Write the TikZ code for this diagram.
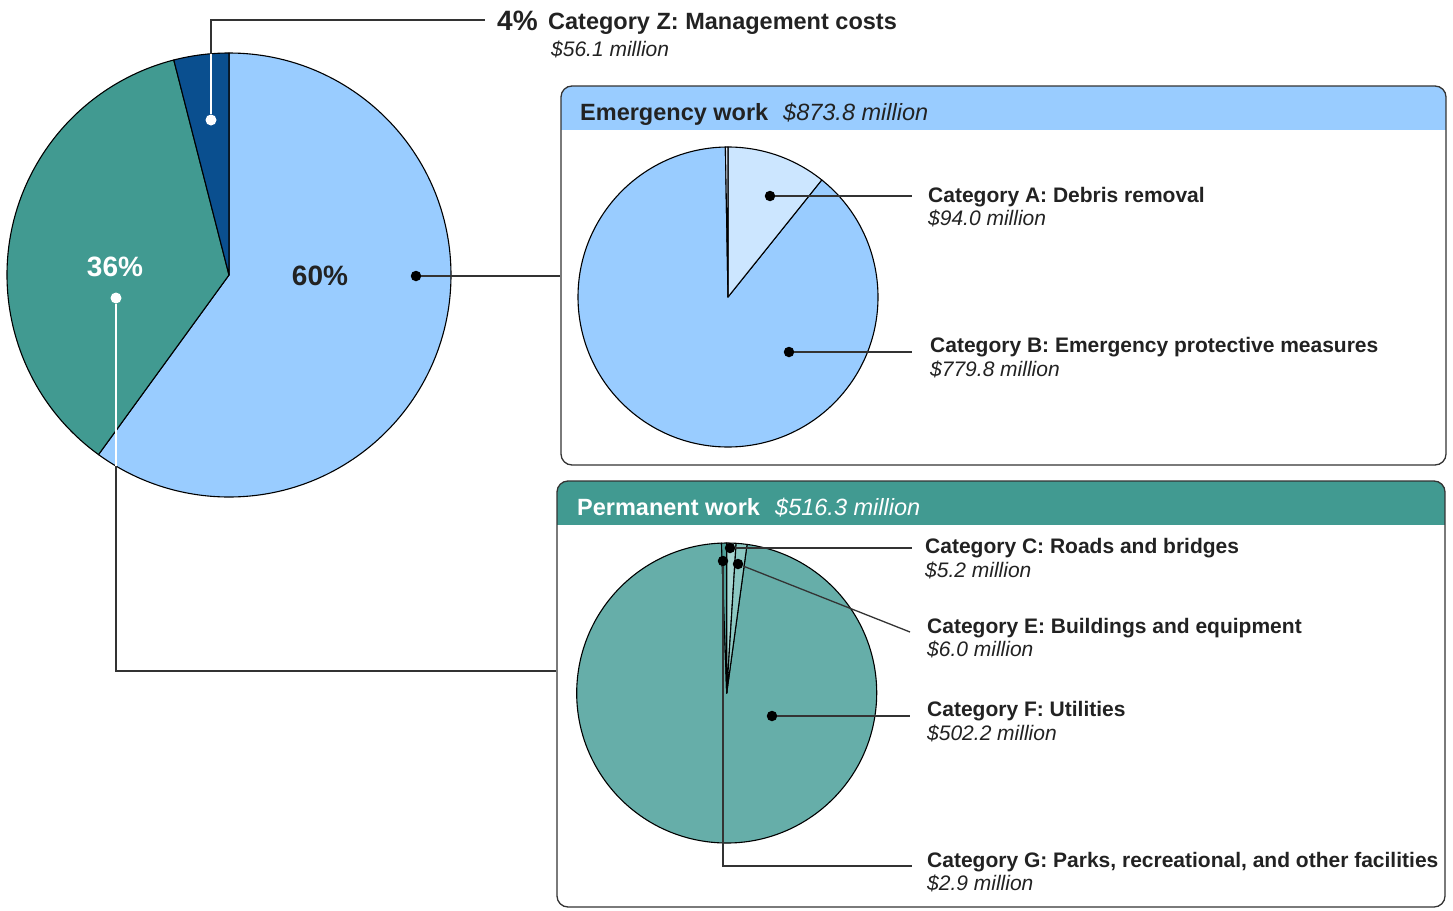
\documentclass[tikz,border=0pt]{standalone}
\usepackage{fontspec}
\setmainfont{Liberation Sans}
\definecolor{lblue}{HTML}{99CCFF}
\definecolor{vlblue}{HTML}{CCE6FF}
\definecolor{sliverc}{HTML}{E8F3FF}
\definecolor{mteal}{HTML}{419A91}
\definecolor{navy}{HTML}{0A4F8F}
\definecolor{pteal}{HTML}{66AEA9}
\definecolor{gteal}{HTML}{4E9F98}
\definecolor{cteal}{HTML}{A6D6D1}
\definecolor{eteal}{HTML}{8CC8C2}
\definecolor{textc}{HTML}{222222}
\definecolor{linec}{HTML}{333333}
\newcommand\pieslice[5]{\filldraw[fill=#5, draw=black, line width=1.1pt, line join=round] (#1) -- ++(#3:#2) arc[start angle=#3, end angle=#4, radius=#2] -- cycle;}
\begin{document}
\begin{tikzpicture}[x=1pt,y=1pt,
  lab/.style={anchor=base west, inner sep=0pt, text=textc, font=\fontsize{21}{25}\selectfont\bfseries},
  amt/.style={anchor=base west, inner sep=0pt, text=textc, font=\fontsize{21}{25}\selectfont\itshape},
  head/.style={anchor=base west, inner sep=0pt, text=textc, font=\fontsize{23.5}{28}\selectfont\bfseries},
  headamt/.style={anchor=base west, inner sep=0pt, text=textc, font=\fontsize{23.5}{28}\selectfont\itshape},
  pct/.style={anchor=center, inner sep=0pt, font=\fontsize{28}{32}\selectfont\bfseries},
  leader/.style={draw=linec, line width=1.3pt},
  wleader/.style={draw=white, line width=1.6pt},
  bdot/.style={circle, fill=black, inner sep=0pt, minimum size=10.5pt},
  wdot/.style={circle, fill=white, inner sep=0pt, minimum size=11pt},
  box/.style={draw=linec, line width=1.3pt, rounded corners=11pt, inner sep=0pt}
]
\useasboundingbox (0,0) rectangle (1453,-910);

% ---------- main pie ----------
\coordinate (mc) at (229,-275);
\pieslice{mc}{222pt}{90}{-126}{lblue}
\pieslice{mc}{222pt}{-126}{-255.6}{mteal}
\pieslice{mc}{222pt}{-255.6}{-270}{navy}

\node[pct, text=textc] (p60) at (320,-276) {60\%};
\node[pct, text=white] (p36) at (115,-267) {36\%};

% ---------- boxes ----------
\path (561,-86) coordinate (eTL) (1446,-465) coordinate (eBR);
\path (557,-481) coordinate (pTL) (1445,-907) coordinate (pBR);
\begin{scope}
  \clip[rounded corners=11pt] (eTL) rectangle (eBR);
  \fill[lblue] (eTL) rectangle (1446,-130);
\end{scope}
\begin{scope}
  \clip[rounded corners=11pt] (pTL) rectangle (pBR);
  \fill[mteal] (pTL) rectangle (1445,-525);
\end{scope}
\node[box, minimum width=885pt, minimum height=379pt] (ebox) at (1003.5,-275.5) {};
\node[box, minimum width=888pt, minimum height=426pt] (pbox) at (1001,-694) {};

\node[head] (eh) at (580,-120) {Emergency work};
\node[headamt] (eha) at (783,-120) {\$873.8 million};
\node[head, text=white] (ph) at (577,-515) {Permanent work};
\node[headamt, text=white] (pha) at (775,-515) {\$516.3 million};

% ---------- emergency pie ----------
\coordinate (ec) at (728,-297);
\pieslice{ec}{150pt}{51.3}{-269}{lblue}
\pieslice{ec}{150pt}{90}{51.3}{vlblue}
\pieslice{ec}{150pt}{91}{90}{sliverc}

% ---------- permanent pie ----------
\coordinate (pc) at (726.7,-693);
\pieslice{pc}{150pt}{82.2}{-268}{pteal}
\pieslice{pc}{150pt}{92}{90}{gteal}
\pieslice{pc}{150pt}{90}{86.4}{cteal}
\pieslice{pc}{150pt}{86.4}{82.2}{eteal}

% ---------- main pie connectors ----------
\node[wdot] (zdot) at (211,-120) {};
\coordinate (zedge) at (211,-53.7);
\coordinate (zend) at (485,-20);
\draw[wleader] (zdot) -- (zedge);
\draw[leader] (zedge) |- (zend);
\node[pct, anchor=base west, text=textc] (z4) at (497,-30) {4\%};
\node[head] (zlab) at (548,-29) {Category Z: Management costs};
\node[amt] (zamt) at (551,-56) {\$56.1 million};

\node[bdot] (d60) at (416,-276) {};
\draw[leader] (d60) -- (ebox.west |- d60);

\node[wdot] (d36) at (116,-298) {};
\coordinate (e36) at (116,-466);
\coordinate (k36) at (116,-671);
\draw[wleader] (d36) -- (e36);
\draw[leader] (e36) -- (k36) -- (pbox.west |- k36);

% ---------- emergency labels ----------
\node[bdot] (da) at (770,-196) {};
\coordinate (ea) at (912,-196);
\draw[leader] (da) -- (ea);
\node[lab] (la) at (928,-202) {Category A: Debris removal};
\node[amt] (aa) at (928,-225) {\$94.0 million};

\node[bdot] (db) at (789,-352) {};
\coordinate (eb) at (912,-352);
\draw[leader] (db) -- (eb);
\node[lab] (lb) at (930,-352) {Category B: Emergency protective measures};
\node[amt] (ab) at (930,-376) {\$779.8 million};

% ---------- permanent labels ----------
\node[bdot] (dc) at (730,-548) {};
\coordinate (ec2) at (912,-548);
\draw[leader] (dc) -- (ec2);
\node[lab] (lc) at (925,-553) {Category C: Roads and bridges};
\node[amt] (ac) at (925,-577) {\$5.2 million};

\node[bdot] (de) at (738,-564) {};
\coordinate (ee) at (910,-632);
\draw[leader] (de) -- (ee);
\node[lab] (le) at (927,-633) {Category E: Buildings and equipment};
\node[amt] (ae) at (927,-656) {\$6.0 million};

\node[bdot] (df) at (772,-716) {};
\coordinate (ef) at (910,-716);
\draw[leader] (df) -- (ef);
\node[lab] (lf) at (927,-716) {Category F: Utilities};
\node[amt] (af) at (927,-740) {\$502.2 million};

\node[bdot] (dg) at (723,-561) {};
\coordinate (eg) at (912,-866);
\draw[leader] (dg) |- (eg);
\node[lab] (lg) at (927,-867) {Category G: Parks, recreational, and other facilities};
\node[amt] (ag) at (927,-890) {\$2.9 million};
\end{tikzpicture}
\end{document}
